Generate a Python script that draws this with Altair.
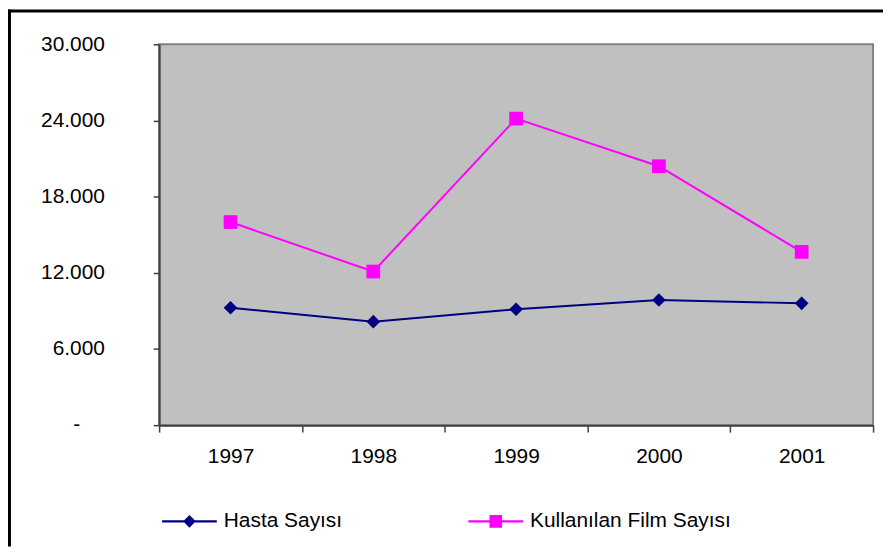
import altair as alt
import pandas as pd

# ---- data ----
years = ["1997", "1998", "1999", "2000", "2001"]
hasta = [9250, 8150, 9130, 9860, 9600]
film = [16000, 12100, 24150, 20400, 13650]
series_names = ["Hasta Sayısı", "Kullanılan Film Sayısı"]
series_colors = ["#000080", "#FF00FF"]
y_ticks = [0, 6000, 12000, 18000, 24000, 30000]
zero_label = ["-"]

rows = []
for name, vals in zip(series_names, [hasta, film]):
    for yr, v in zip(years, vals):
        rows.append({"year": yr, "value": v, "series": name})
df = pd.DataFrame(rows)

FONT = "Liberation Sans"
W, H = 718, 383
PAD = {"left": 152, "top": 35, "right": 10, "bottom": 122}

# legend symbols: line with marker in the middle (custom paths)
path_h = "M-1,-0.04H1V0.04H-1Z M-0.23,0L0,-0.23L0.23,0L0,0.23Z"
path_f = "M-1,-0.04H1V0.04H-1Z M-0.23,-0.23H0.23V0.23H-0.23Z"

y_scale = alt.Scale(domain=[0, 30000], nice=False, zero=True)

x_enc = alt.X(
    "year:N", sort=years, bandPosition=0.5,
    scale=alt.Scale(type="band", paddingInner=0, paddingOuter=0),
    axis=alt.Axis(title=None, labelAngle=0, tickBand="extent", tickSize=7,
                  labelPadding=14),
)
y_enc = alt.Y(
    "value:Q", scale=y_scale,
    axis=alt.Axis(
        title=None, values=y_ticks, tickSize=6, labelPadding=49,
        labelExpr="datum.value == 0 ? '' : replace(format(datum.value, ','), ',', '.')",
    ),
)

base = alt.Chart(df).encode(x=x_enc, y=y_enc)

lines = base.mark_line(strokeWidth=2).encode(
    color=alt.Color("series:N",
                    scale=alt.Scale(domain=series_names, range=series_colors),
                    legend=None)
)

pts_h = base.transform_filter(alt.datum.series == series_names[0]).mark_point(
    shape="diamond", filled=True, size=190, color=series_colors[0], opacity=1
)
pts_f = base.transform_filter(alt.datum.series == series_names[1]).mark_point(
    shape="square", filled=True, size=190, color=series_colors[1], opacity=1
)

leg = alt.Legend(
    title=None, orient="none", legendX=3, legendY=452, direction="horizontal",
    columnPadding=126, symbolSize=3025, symbolOpacity=1, symbolStrokeWidth=0,
    labelOffset=7, labelLimit=500,
)
legend_layer = base.mark_point(filled=True, opacity=0).encode(
    color=alt.Color("series:N",
                    scale=alt.Scale(domain=series_names, range=series_colors),
                    legend=leg),
    shape=alt.Shape("series:N",
                    scale=alt.Scale(domain=series_names, range=[path_h, path_f]),
                    legend=leg),
)

# the accounting-style "-" label for zero on the y axis
zdf = pd.DataFrame({"value": [y_ticks[0]], "label": zero_label})
zero_text = alt.Chart(zdf).mark_text(
    align="center", baseline="middle", font=FONT, fontSize=21, color="#000000"
).encode(
    y=alt.Y("value:Q", scale=y_scale),
    x=alt.value(-83),
    text="label:N",
)

bdf = pd.DataFrame({"k": [0]})
top_border = alt.Chart(bdf).mark_rule(color="black", strokeWidth=3).encode(
    x=alt.value(-PAD["left"]), x2=alt.value(W + PAD["right"]),
    y=alt.value(-PAD["top"] + 1.5),
)
left_border = alt.Chart(bdf).mark_rule(color="black", strokeWidth=3).encode(
    x=alt.value(-PAD["left"] + 1.5),
    y=alt.value(-PAD["top"]), y2=alt.value(H + PAD["bottom"]),
)

chart = (
    alt.layer(lines, pts_h, pts_f, legend_layer, zero_text, top_border, left_border)
    .resolve_scale(color="independent", shape="independent")
    .properties(width=W, height=H, padding=PAD,
                autosize=alt.AutoSizeParams(type="none"),
                background="white")
    .configure_view(fill="#C0C0C0", stroke="#808080", strokeWidth=2)
    .configure_axis(labelFont=FONT, labelFontSize=21, labelColor="#000000",
                    domainColor="#404040", domainWidth=2,
                    tickColor="#404040", tickWidth=1.5, grid=False)
    .configure_legend(labelFont=FONT, labelFontSize=21, labelColor="#000000")
)

chart.save("out.html", embed_options={"renderer": "svg", "actions": False})
